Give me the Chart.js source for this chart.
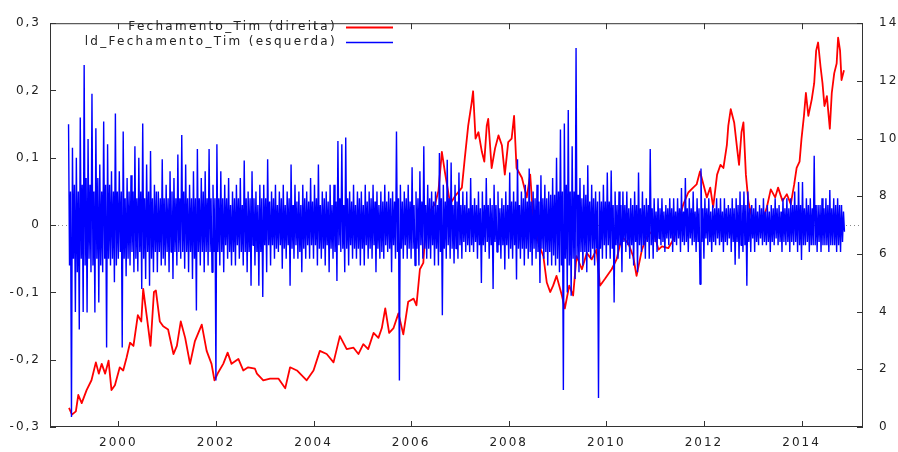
<!DOCTYPE html>
<html>
<head>
<meta charset="utf-8">
<script src="https://cdn.jsdelivr.net/npm/chart.js@4.4.0/dist/chart.umd.min.js"></script>
<style>
  html, body { margin: 0; padding: 0; background: #fff; }
  canvas { display: block; }
</style>
</head>
<body>
<canvas id="grafico" width="898" height="452"></canvas>
<script>
'use strict'

// Fechamento_Tim (eixo da direita): ano decimal e valor
const fechAnos = [
  1998.99, 1999.05, 1999.13, 1999.18, 1999.25, 1999.35, 1999.45, 1999.54, 1999.60, 1999.66,
  1999.73, 1999.80, 1999.86, 1999.93, 2000.03, 2000.10, 2000.17, 2000.24, 2000.31, 2000.40,
  2000.47, 2000.51, 2000.58, 2000.66, 2000.73, 2000.77, 2000.85, 2000.92, 2001.02, 2001.13,
  2001.20, 2001.28, 2001.37, 2001.47, 2001.57, 2001.71, 2001.81, 2001.91, 2001.97, 2002.05,
  2002.15, 2002.24, 2002.32, 2002.46, 2002.56, 2002.66, 2002.80, 2002.84, 2002.97, 2003.11,
  2003.28, 2003.42, 2003.52, 2003.66, 2003.86, 2004.00, 2004.13, 2004.27, 2004.41, 2004.54,
  2004.68, 2004.82, 2004.92, 2005.02, 2005.12, 2005.23, 2005.33, 2005.40, 2005.47, 2005.55,
  2005.64, 2005.74, 2005.84, 2005.94, 2006.05, 2006.11, 2006.18, 2006.25, 2006.28, 2006.39,
  2006.49, 2006.56, 2006.63, 2006.69, 2006.80, 2006.90, 2007.04, 2007.10, 2007.17, 2007.24,
  2007.27, 2007.32, 2007.38, 2007.45, 2007.50, 2007.55, 2007.58, 2007.65, 2007.72, 2007.79,
  2007.86, 2007.92, 2007.99, 2008.06, 2008.11, 2008.16, 2008.27, 2008.37, 2008.44, 2008.50,
  2008.61, 2008.71, 2008.78, 2008.85, 2008.91, 2008.98, 2009.09, 2009.15, 2009.24, 2009.32,
  2009.39, 2009.50, 2009.60, 2009.70, 2009.80, 2009.87, 2009.97, 2010.11, 2010.21, 2010.32,
  2010.45, 2010.55, 2010.62, 2010.73, 2010.83, 2010.96, 2011.07, 2011.14, 2011.27, 2011.37,
  2011.48, 2011.58, 2011.68, 2011.78, 2011.85, 2011.92, 2011.99, 2012.06, 2012.13, 2012.19,
  2012.27, 2012.34, 2012.40, 2012.47, 2012.50, 2012.55, 2012.62, 2012.68, 2012.72, 2012.77,
  2012.81, 2012.86, 2012.91, 2012.98, 2013.05, 2013.18, 2013.29, 2013.37, 2013.46, 2013.52,
  2013.61, 2013.70, 2013.78, 2013.85, 2013.90, 2013.96, 2014.00, 2014.05, 2014.09, 2014.14,
  2014.21, 2014.26, 2014.30, 2014.34, 2014.39, 2014.43, 2014.47, 2014.52, 2014.58, 2014.62,
  2014.67, 2014.72, 2014.75, 2014.79, 2014.82, 2014.87
];
const fechValores = [
  0.66, 0.43, 0.54, 1.11, 0.83, 1.28, 1.62, 2.24, 1.85, 2.19,
  1.85, 2.30, 1.28, 1.45, 2.07, 1.96, 2.41, 2.92, 2.81, 3.88,
  3.66, 4.79, 3.88, 2.81, 4.68, 4.73, 3.66, 3.49, 3.38, 2.53,
  2.81, 3.66, 3.09, 2.19, 2.98, 3.55, 2.64, 2.19, 1.62, 1.90,
  2.19, 2.58, 2.19, 2.36, 1.96, 2.07, 2.02, 1.85, 1.62, 1.68,
  1.68, 1.34, 2.07, 1.96, 1.62, 1.96, 2.64, 2.53, 2.24, 3.15,
  2.70, 2.75, 2.53, 2.87, 2.70, 3.26, 3.09, 3.43, 4.11, 3.26,
  3.43, 3.94, 3.21, 4.34, 4.45, 4.22, 5.47, 5.69, 6.49, 7.50,
  7.73, 8.18, 9.54, 8.86, 7.74, 8.00, 8.30, 9.32, 10.45, 11.24,
  11.64, 10.00, 10.22, 9.54, 9.20, 10.45, 10.68, 8.98, 9.66, 10.11,
  9.77, 8.75, 9.88, 10.00, 10.79, 8.98, 8.64, 7.96, 8.75, 7.28,
  6.37, 5.92, 5.01, 4.68, 4.90, 5.24, 4.56, 4.11, 4.90, 4.56,
  5.92, 5.47, 6.03, 5.81, 6.15, 4.90, 5.13, 5.47, 5.81, 6.60,
  6.37, 5.92, 5.24, 6.15, 6.60, 6.83, 6.15, 6.26, 6.20, 6.49,
  7.16, 7.73, 8.13, 8.30, 8.41, 8.86, 8.41, 7.96, 8.30, 7.62,
  8.75, 9.09, 8.98, 9.77, 10.45, 11.02, 10.56, 9.66, 9.09, 10.22,
  10.56, 8.75, 7.84, 7.28, 7.16, 7.05, 7.62, 8.24, 7.96, 8.30,
  7.84, 8.07, 7.73, 8.41, 8.98, 9.20, 10.00, 10.79, 11.58, 10.79,
  11.36, 11.92, 13.05, 13.33, 12.49, 11.92, 11.13, 11.47, 10.34, 11.58,
  12.26, 12.60, 13.50, 13.05, 12.03, 12.37
];

// ld_Fechamento_Tim (eixo da esquerda): uma observacao a cada ~semana, uma linha por ano
const ldInicio = 1998.98;
const ldPasso = 0.02;
const ld1999 = [0.15, -0.06, 0.05, -0.285, 0.115, -0.05, 0.06, -0.129, 0.10, -0.07, 0.05, -0.155, 0.16, -0.05, 0.06, -0.129, 0.238, -0.06, 0.07, -0.13, 0.128, -0.05, 0.06, -0.07, 0.195, -0.06, 0.05, -0.13, 0.144, -0.05, 0.07, -0.115, 0.09, -0.06, 0.05, -0.07, 0.154, -0.05, 0.06, -0.182, 0.12, -0.05, 0.06, -0.06, 0.08, -0.05, 0.05, -0.085, 0.166, -0.06];
const ld2000 = [0.05, -0.05, 0.08, -0.04, 0.05, -0.182, 0.139, -0.05, 0.04, -0.076, 0.07, -0.05, 0.05, -0.06, 0.074, -0.04, 0.05, -0.07, 0.117, -0.05, 0.04, -0.069, 0.10, -0.04, 0.05, -0.095, 0.151, -0.05, 0.04, -0.08, 0.09, -0.04, 0.05, -0.09, 0.11, -0.05, 0.04, -0.07, 0.06, -0.04, 0.05, -0.07, 0.05, -0.04, 0.04, -0.06, 0.098, -0.05, 0.04, -0.06];
const ld2001 = [0.06, -0.04, 0.04, -0.07, 0.08, -0.04, 0.05, -0.08, 0.07, -0.04, 0.04, -0.06, 0.105, -0.04, 0.04, -0.05, 0.134, -0.04, 0.05, -0.065, 0.09, -0.04, 0.04, -0.07, 0.06, -0.04, 0.04, -0.08, 0.08, -0.05, 0.04, -0.127, 0.113, -0.04, 0.04, -0.06, 0.07, -0.04, 0.05, -0.07, 0.08, -0.04, 0.04, -0.06, 0.113, -0.04, 0.04, -0.07, 0.06, -0.04];
const ld2002 = [0.04, -0.231, 0.12, -0.04, 0.04, -0.06, 0.08, -0.04, 0.04, -0.07, 0.06, -0.03, 0.04, -0.05, 0.07, -0.04, 0.03, -0.06, 0.05, -0.04, 0.04, -0.06, 0.06, -0.03, 0.04, -0.05, 0.07, -0.04, 0.03, -0.06, 0.096, -0.04, 0.04, -0.07, 0.05, -0.04, 0.04, -0.09, 0.08, -0.03, 0.04, -0.06, 0.05, -0.04, 0.03, -0.09, 0.06, -0.04, 0.04, -0.107];
const ld2003 = [0.06, -0.03, 0.04, -0.07, 0.098, -0.03, 0.035, -0.06, 0.05, -0.03, 0.04, -0.05, 0.06, -0.035, 0.03, -0.04, 0.05, -0.03, 0.04, -0.065, 0.06, -0.035, 0.03, -0.05, 0.05, -0.03, 0.04, -0.09, 0.09, -0.035, 0.03, -0.05, 0.06, -0.03, 0.035, -0.05, 0.05, -0.04, 0.03, -0.07, 0.06, -0.035, 0.04, -0.05, 0.05, -0.03, 0.035, -0.05, 0.07, -0.03];
const ld2004 = [0.035, -0.05, 0.06, -0.03, 0.04, -0.06, 0.09, -0.035, 0.03, -0.05, 0.05, -0.035, 0.04, -0.06, 0.05, -0.03, 0.035, -0.07, 0.06, -0.035, 0.03, -0.05, 0.06, -0.04, 0.035, -0.083, 0.125, -0.03, 0.04, -0.04, 0.12, -0.035, 0.03, -0.07, 0.13, -0.035, 0.04, -0.06, 0.05, -0.03, 0.035, -0.05, 0.06, -0.035, 0.03, -0.05, 0.05, -0.035, 0.04, -0.06];
const ld2005 = [0.05, -0.035, 0.03, -0.06, 0.06, -0.03, 0.035, -0.05, 0.05, -0.035, 0.04, -0.05, 0.06, -0.03, 0.035, -0.07, 0.05, -0.035, 0.03, -0.05, 0.05, -0.04, 0.035, -0.05, 0.06, -0.03, 0.035, -0.04, 0.05, -0.035, 0.04, -0.07, 0.05, -0.03, 0.035, -0.05, 0.139, -0.04, 0.04, -0.231, 0.06, -0.035, 0.035, -0.05, 0.05, -0.03, 0.04, -0.05, 0.06, -0.035];
const ld2006 = [0.035, -0.05, 0.086, -0.035, 0.03, -0.06, 0.05, -0.035, 0.04, -0.06, 0.08, -0.03, 0.035, -0.05, 0.117, -0.035, 0.03, -0.05, 0.06, -0.035, 0.04, -0.05, 0.05, -0.03, 0.035, -0.06, 0.05, -0.035, 0.03, -0.06, 0.107, -0.04, 0.04, -0.134, 0.06, -0.035, 0.035, -0.05, 0.097, -0.03, 0.04, -0.05, 0.093, -0.035, 0.03, -0.057, 0.06, -0.035, 0.035, -0.05];
const ld2007 = [0.078, -0.03, 0.03, -0.05, 0.05, -0.025, 0.03, -0.04, 0.05, -0.03, 0.025, -0.04, 0.07, -0.03, 0.03, -0.04, 0.04, -0.025, 0.03, -0.05, 0.05, -0.03, 0.025, -0.086, 0.05, -0.03, 0.03, -0.04, 0.07, -0.025, 0.03, -0.05, 0.04, -0.03, 0.03, -0.095, 0.06, -0.025, 0.03, -0.04, 0.05, -0.03, 0.025, -0.05, 0.04, -0.03, 0.03, -0.066, 0.05, -0.03];
const ld2008 = [0.03, -0.05, 0.078, -0.035, 0.035, -0.05, 0.05, -0.03, 0.035, -0.081, 0.098, -0.035, 0.03, -0.05, 0.05, -0.035, 0.04, -0.06, 0.06, -0.035, 0.035, -0.05, 0.084, -0.04, 0.035, -0.06, 0.05, -0.035, 0.04, -0.05, 0.06, -0.04, 0.035, -0.086, 0.074, -0.035, 0.04, -0.05, 0.06, -0.04, 0.04, -0.06, 0.05, -0.04, 0.045, -0.06, 0.07, -0.045, 0.045, -0.06];
const ld2009 = [0.10, -0.05, 0.05, -0.07, 0.142, -0.06, 0.05, -0.245, 0.151, -0.05, 0.06, -0.10, 0.171, -0.06, 0.05, -0.105, 0.117, -0.05, 0.05, -0.08, 0.263, -0.05, 0.045, -0.07, 0.07, -0.04, 0.04, -0.06, 0.06, -0.04, 0.045, -0.07, 0.089, -0.04, 0.035, -0.05, 0.06, -0.035, 0.04, -0.06, 0.05, -0.035, 0.035, -0.257, 0.05, -0.035, 0.035, -0.05, 0.06, -0.03];
const ld2010 = [0.035, -0.05, 0.078, -0.03, 0.035, -0.05, 0.081, -0.035, 0.03, -0.115, 0.05, -0.03, 0.03, -0.05, 0.05, -0.03, 0.03, -0.07, 0.05, -0.025, 0.03, -0.04, 0.05, -0.03, 0.025, -0.05, 0.04, -0.03, 0.03, -0.06, 0.05, -0.025, 0.03, -0.07, 0.078, -0.03, 0.025, -0.04, 0.05, -0.03, 0.03, -0.05, 0.04, -0.025, 0.03, -0.05, 0.113, -0.03, 0.025, -0.05];
const ld2011 = [0.04, -0.025, 0.02, -0.04, 0.04, -0.02, 0.025, -0.03, 0.04, -0.025, 0.02, -0.04, 0.03, -0.02, 0.025, -0.03, 0.04, -0.02, 0.025, -0.04, 0.04, -0.025, 0.02, -0.03, 0.04, -0.02, 0.025, -0.04, 0.055, -0.025, 0.02, -0.03, 0.07, -0.025, 0.025, -0.04, 0.04, -0.02, 0.025, -0.03, 0.05, -0.025, 0.02, -0.04, 0.04, -0.025, 0.025, -0.088, 0.084, -0.025];
const ld2012 = [0.025, -0.05, 0.04, -0.02, 0.025, -0.03, 0.04, -0.025, 0.02, -0.04, 0.03, -0.025, 0.025, -0.03, 0.04, -0.02, 0.025, -0.03, 0.04, -0.025, 0.02, -0.04, 0.04, -0.025, 0.025, -0.03, 0.03, -0.02, 0.025, -0.04, 0.04, -0.025, 0.025, -0.059, 0.04, -0.025, 0.03, -0.05, 0.05, -0.03, 0.03, -0.04, 0.05, -0.03, 0.03, -0.09, 0.05, -0.025, 0.025, -0.04];
const ld2013 = [0.03, -0.02, 0.025, -0.04, 0.04, -0.025, 0.02, -0.03, 0.03, -0.02, 0.025, -0.03, 0.04, -0.025, 0.02, -0.03, 0.03, -0.025, 0.02, -0.04, 0.03, -0.025, 0.025, -0.03, 0.04, -0.02, 0.025, -0.03, 0.03, -0.025, 0.02, -0.04, 0.04, -0.025, 0.025, -0.03, 0.04, -0.025, 0.025, -0.04, 0.04, -0.025, 0.03, -0.03, 0.05, -0.025, 0.03, -0.04, 0.064, -0.03];
const ld2014 = [0.03, -0.052, 0.064, -0.03, 0.025, -0.03, 0.04, -0.025, 0.03, -0.04, 0.04, -0.03, 0.025, -0.03, 0.103, -0.03, 0.03, -0.04, 0.03, -0.025, 0.03, -0.04, 0.04, -0.03, 0.025, -0.03, 0.04, -0.03, 0.03, -0.04, 0.052, -0.03, 0.025, -0.03, 0.04, -0.03, 0.03, -0.04, 0.04, -0.03, 0.03, -0.04, 0.03, -0.025, 0.02, -0.01];
const ldValores = [].concat(ld1999, ld2000, ld2001, ld2002, ld2003, ld2004, ld2005, ld2006,
  ld2007, ld2008, ld2009, ld2010, ld2011, ld2012, ld2013, ld2014);

// eixos
const anosEixoX = [2000, 2002, 2004, 2006, 2008, 2010, 2012, 2014];
const ticksEsquerda = [-0.3, -0.2, -0.1, 0, 0.1, 0.2, 0.3];
const rotulosEsquerda = ['-0,3', '-0,2', '-0,1', '0', '0,1', '0,2', '0,3'];
const ticksDireita = [0, 2, 4, 6, 8, 10, 12, 14];
const legendas = ['Fechamento_Tim (direita)', 'ld_Fechamento_Tim (esquerda)'];

const corTexto = '#222';
const fonte = '"DejaVu Sans", Verdana, sans-serif';

// moldura, marcas internas, linha do zero e legenda no estilo do gretl
const moldura = {
  id: 'moldura',
  beforeDraw(chart) {
    chart.ctx.letterSpacing = '2px';
  },
  beforeDatasetsDraw(chart) {
    const { ctx, chartArea: a, scales } = chart;
    const y0 = Math.round(scales.yEsq.getPixelForValue(0)) + 0.5;
    ctx.save();
    ctx.strokeStyle = '#888';
    ctx.lineWidth = 1;
    ctx.setLineDash([1, 3]);
    ctx.beginPath();
    ctx.moveTo(a.left, y0);
    ctx.lineTo(a.right, y0);
    ctx.stroke();
    ctx.restore();
  },
  afterDatasetsDraw(chart) {
    const { ctx, chartArea: a, scales } = chart;
    const tam = 6;
    ctx.save();
    ctx.strokeStyle = '#333';
    ctx.lineWidth = 1;
    ctx.strokeRect(a.left + 0.5, a.top + 0.5, a.width - 1, a.height - 1);
    ctx.beginPath();
    anosEixoX.forEach(v => {
      const x = Math.round(scales.x.getPixelForValue(v)) + 0.5;
      ctx.moveTo(x, a.bottom); ctx.lineTo(x, a.bottom - tam);
      ctx.moveTo(x, a.top); ctx.lineTo(x, a.top + tam);
    });
    ticksEsquerda.forEach(v => {
      const y = Math.round(scales.yEsq.getPixelForValue(v)) + 0.5;
      ctx.moveTo(a.left, y); ctx.lineTo(a.left + tam, y);
    });
    ticksDireita.forEach(v => {
      const y = Math.round(scales.yDir.getPixelForValue(v)) + 0.5;
      ctx.moveTo(a.right, y); ctx.lineTo(a.right - tam, y);
    });
    ctx.stroke();

    // legenda: texto alinhado a direita e amostra da linha
    const cores = ['rgb(255,0,0)', 'rgb(0,0,255)'];
    const larguras = [1.8, 1.4];
    ctx.font = '12px ' + fonte;
    ctx.letterSpacing = '2.3px';
    ctx.fillStyle = corTexto;
    ctx.textAlign = 'right';
    ctx.textBaseline = 'middle';
    legendas.forEach((txt, i) => {
      const y = 27 + i * 15;
      ctx.fillText(txt, 337, y);
      ctx.strokeStyle = cores[i];
      ctx.lineWidth = larguras[i];
      ctx.beginPath();
      ctx.moveTo(346, y + 0.5);
      ctx.lineTo(393, y + 0.5);
      ctx.stroke();
    });
    ctx.restore();
  }
};

const fechPontos = fechAnos.map((x, i) => ({ x: x, y: fechValores[i] }));
const ldPontos = ldValores.map((v, i) => ({ x: ldInicio + i * ldPasso, y: v }));

Chart.defaults.font.family = fonte;
Chart.defaults.font.size = 12;
Chart.defaults.color = corTexto;

const ctx = document.getElementById('grafico').getContext('2d');
const grafico = new Chart(ctx, {
  type: 'line',
  data: {
    datasets: [
      {
        label: legendas[1],
        data: ldPontos,
        yAxisID: 'yEsq',
        borderColor: 'rgb(0,0,255)',
        borderWidth: 1.4,
        borderJoinStyle: 'bevel',
        pointRadius: 0,
        order: 0
      },
      {
        label: legendas[0],
        data: fechPontos,
        yAxisID: 'yDir',
        borderColor: 'rgb(255,0,0)',
        borderWidth: 1.8,
        borderJoinStyle: 'round',
        pointRadius: 0,
        order: 1
      }
    ]
  },
  options: {
    responsive: false,
    animation: false,
    events: [],
    layout: { padding: { top: 14, left: 0, right: 0, bottom: 0 } },
    plugins: { legend: { display: false }, tooltip: { enabled: false } },
    scales: {
      x: {
        type: 'linear',
        position: 'bottom',
        min: 1998.60,
        max: 2015.26,
        grid: { display: false, drawTicks: false },
        border: { display: false },
        afterBuildTicks: s => { s.ticks = anosEixoX.map(v => ({ value: v })); },
        afterFit: s => { s.height = 25; },
        ticks: { padding: 9, maxRotation: 0, autoSkip: false, callback: v => String(v) }
      },
      yEsq: {
        type: 'linear',
        position: 'left',
        min: -0.3,
        max: 0.3,
        grid: { display: false, drawTicks: false },
        border: { display: false },
        afterBuildTicks: s => { s.ticks = ticksEsquerda.map(v => ({ value: v })); },
        afterFit: s => { s.width = 50; },
        ticks: { padding: 9, callback: (v, i) => rotulosEsquerda[i] }
      },
      yDir: {
        type: 'linear',
        position: 'right',
        min: 0,
        max: 14,
        grid: { display: false, drawTicks: false },
        border: { display: false },
        afterBuildTicks: s => { s.ticks = ticksDireita.map(v => ({ value: v })); },
        afterFit: s => { s.width = 35; },
        ticks: { padding: 16, callback: v => String(v) }
      }
    }
  },
  plugins: [moldura]
});
</script>
</body>
</html>
